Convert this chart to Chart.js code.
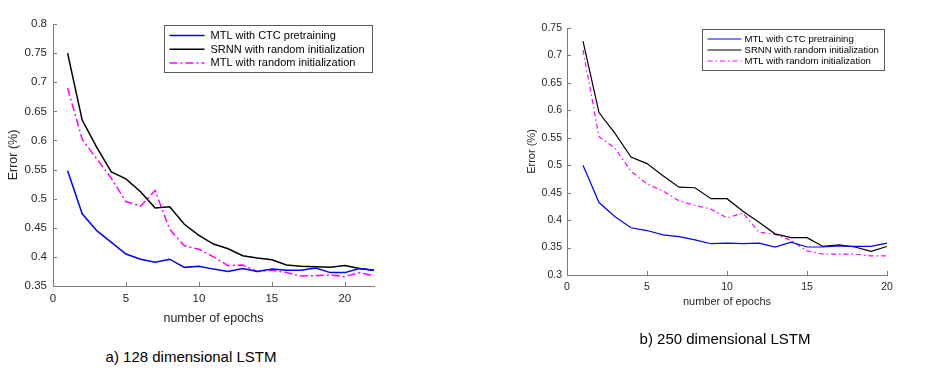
<!DOCTYPE html>
<html lang="en">
<head>
  <meta charset="UTF-8">
  <title>MTL vs SRNN error curves</title>
  <style>
    body {
      margin: 0;
      background: #fff;
      font-family: 'Liberation Sans', Arial, sans-serif;
    }
    .page {
      position: relative;
      width: 926px;
      height: 369px;
      background: #fff;
      overflow: hidden;
    }
    .page canvas {
      position: absolute;
      top: 0;
    }
    .caption {
      position: absolute;
      font-size: 15px;
      color: #000;
      white-space: nowrap;
      transform: translate(-50%, -50%);
    }
  </style>
</head>
<body>
  <div class="page">
    <canvas id="chart-a" width="400" height="340" style="left:0"></canvas>
    <canvas id="chart-b" width="420" height="330" style="left:500px"></canvas>
    <div class="caption" style="left:191px; top:356px">a) 128 dimensional LSTM</div>
    <div class="caption" style="left:725px; top:338px">b) 250 dimensional LSTM</div>
  </div>

  <script src="https://cdn.jsdelivr.net/npm/chart.js"></script>
  <script>
    // series names
    const seriesNames = ['MTL with CTC pretraining', 'SRNN with random initialization', 'MTL with random initialization'];

    // a) 128 dimensional LSTM
    const epochsA = [1, 2, 3, 4, 5, 6, 7, 8, 9, 10, 11, 12, 13, 14, 15, 16, 17, 18, 19, 20, 21, 22];
    const ctcA  = [0.548, 0.474, 0.445, 0.425, 0.405, 0.396, 0.391, 0.396, 0.382, 0.384, 0.379, 0.375, 0.380, 0.375, 0.379, 0.377, 0.377, 0.381, 0.373, 0.373, 0.380, 0.377];
    const srnnA = [0.750, 0.635, 0.588, 0.546, 0.534, 0.512, 0.484, 0.486, 0.456, 0.437, 0.422, 0.414, 0.402, 0.398, 0.395, 0.386, 0.384, 0.383, 0.382, 0.385, 0.380, 0.377];
    const randA = [0.690, 0.602, 0.568, 0.535, 0.495, 0.487, 0.514, 0.447, 0.419, 0.413, 0.400, 0.385, 0.386, 0.375, 0.377, 0.373, 0.367, 0.368, 0.369, 0.366, 0.373, 0.367];
    const xTicksA = [0, 5, 10, 15, 20];
    const yTicksA = [0.35, 0.4, 0.45, 0.5, 0.55, 0.6, 0.65, 0.7, 0.75, 0.8];

    // b) 250 dimensional LSTM
    const epochsB = [1, 2, 3, 4, 5, 6, 7, 8, 9, 10, 11, 12, 13, 14, 15, 16, 17, 18, 19, 20];
    const ctcB  = [0.500, 0.432, 0.406, 0.386, 0.381, 0.373, 0.370, 0.364, 0.357, 0.358, 0.357, 0.358, 0.351, 0.360, 0.351, 0.351, 0.353, 0.352, 0.352, 0.358];
    const srnnB = [0.726, 0.596, 0.558, 0.515, 0.503, 0.481, 0.460, 0.459, 0.439, 0.439, 0.416, 0.396, 0.375, 0.368, 0.368, 0.352, 0.355, 0.351, 0.343, 0.352];
    const randB = [0.710, 0.552, 0.531, 0.489, 0.466, 0.453, 0.435, 0.427, 0.420, 0.404, 0.413, 0.378, 0.374, 0.363, 0.344, 0.338, 0.338, 0.338, 0.335, 0.335];
    const xTicksB = [0, 5, 10, 15, 20];
    const yTicksB = [0.3, 0.35, 0.4, 0.45, 0.5, 0.55, 0.6, 0.65, 0.7, 0.75];

    const FONT = "'Liberation Sans', Arial, sans-serif";
    const AXIS = '#7a7a7a';
    const TEXT = '#262626';

    // MATLAB style ticks pointing into the plot
    const inwardTicks = {
      id: 'inwardTicks',
      afterDraw(chart, args, opts) {
        const { ctx, chartArea: a, scales: { x, y } } = chart;
        ctx.save();
        ctx.strokeStyle = AXIS;
        ctx.lineWidth = 1;
        ctx.beginPath();
        x.ticks.forEach(t => {
          const px = Math.round(x.getPixelForValue(t.value)) + 0.5;
          ctx.moveTo(px, a.bottom);
          ctx.lineTo(px, a.bottom - opts.len);
        });
        y.ticks.forEach(t => {
          const py = Math.round(y.getPixelForValue(t.value)) + 0.5;
          ctx.moveTo(a.left, py);
          ctx.lineTo(a.left + opts.len, py);
        });
        ctx.stroke();
        ctx.restore();
      }
    };

    // boxed legend in the top right corner of the plot
    const boxLegend = {
      id: 'boxLegend',
      afterDraw(chart, args, o) {
        const { ctx, chartArea: a } = chart;
        const sets = chart.data.datasets;
        ctx.save();
        ctx.font = o.fontSize + 'px ' + FONT;
        const textW = Math.max(...sets.map(d => ctx.measureText(d.label).width));
        const w = o.padL + o.lineLen + o.gap + textW + o.padR;
        const h = o.rowTop + o.rowH * (sets.length - 1) + o.rowBottom;
        const x0 = Math.round(a.right - o.offRight - w) + 0.5;
        const y0 = Math.round(a.top + o.offTop) + 0.5;
        ctx.fillStyle = '#fff';
        ctx.fillRect(x0, y0, w, h);
        ctx.strokeStyle = '#5a5a5a';
        ctx.lineWidth = 1;
        ctx.strokeRect(x0, y0, Math.round(w), Math.round(h));
        sets.forEach((d, i) => {
          const ry = y0 + o.rowTop + o.rowH * i;
          ctx.beginPath();
          ctx.strokeStyle = d.borderColor;
          ctx.lineWidth = d.borderWidth;
          ctx.setLineDash(d.borderDash || []);
          ctx.moveTo(x0 + o.padL, ry);
          ctx.lineTo(x0 + o.padL + o.lineLen, ry);
          ctx.stroke();
          ctx.setLineDash([]);
          ctx.fillStyle = '#000';
          ctx.textBaseline = 'middle';
          ctx.textAlign = 'left';
          ctx.fillText(d.label, x0 + o.padL + o.lineLen + o.gap, ry + 0.5);
        });
        ctx.restore();
      }
    };

    function makeChart(id, cfg) {
      const series = [cfg.ctc, cfg.srnn, cfg.rand];
      const colors = ['#0000ff', '#000000', '#ff00ff'];
      const datasets = series.map((vals, i) => ({
        label: seriesNames[i],
        data: cfg.epochs.map((e, j) => ({ x: e, y: vals[j] })),
        borderColor: colors[i],
        borderWidth: cfg.lineW,
        borderDash: i === 2 ? cfg.dash : [],
        pointRadius: 0,
        tension: 0,
        fill: false
      }));

      return new Chart(document.getElementById(id), {
        type: 'line',
        data: { datasets },
        plugins: [inwardTicks, boxLegend],
        options: {
          responsive: false,
          animation: false,
          layout: { padding: cfg.pad },
          plugins: {
            legend: { display: false },
            tooltip: { enabled: false },
            inwardTicks: { len: 4 },
            boxLegend: cfg.legend
          },
          scales: {
            x: {
              type: 'linear',
              min: cfg.xMin,
              max: cfg.xMax,
              grid: { display: false, drawTicks: false },
              border: { display: true, color: AXIS, width: 1 },
              afterBuildTicks: s => { s.ticks = cfg.xTicks.map(v => ({ value: v })); },
              afterFit: s => {
                s.height = cfg.xH;
                s.paddingLeft = 0; s.paddingRight = 0;
              },
              ticks: {
                padding: cfg.xTickPad,
                color: TEXT,
                font: { family: FONT, size: cfg.tickSize },
                maxRotation: 0,
                callback: v => String(v)
              },
              title: {
                display: true,
                text: 'number of epochs',
                color: TEXT,
                font: { family: FONT, size: cfg.titleSize },
                padding: { top: 0, bottom: cfg.xTitlePad }
              }
            },
            y: {
              type: 'linear',
              min: cfg.yMin,
              max: cfg.yMax,
              grid: { display: false, drawTicks: false },
              border: { display: true, color: AXIS, width: 1 },
              afterBuildTicks: s => { s.ticks = cfg.yTicks.map(v => ({ value: v })); },
              afterFit: s => {
                s.width = cfg.yW;
                s.paddingTop = 0; s.paddingBottom = 0;
              },
              ticks: {
                padding: cfg.yTickPad,
                color: TEXT,
                font: { family: FONT, size: cfg.tickSize },
                callback: v => String(+v.toFixed(2))
              },
              title: {
                display: true,
                text: 'Error (%)',
                color: TEXT,
                font: { family: FONT, size: cfg.titleSize },
                padding: { top: cfg.yTitlePad, bottom: 0 }
              }
            }
          }
        }
      });
    }

    makeChart('chart-a', {
      epochs: epochsA, ctc: ctcA, srnn: srnnA, rand: randA,
      xTicks: xTicksA, yTicks: yTicksA,
      xMin: 0, xMax: 22, yMin: 0.35, yMax: 0.8,
      pad: { top: 24, right: 26, left: 0, bottom: 0 },
      xH: 54, yW: 53,
      xTickPad: 6, yTickPad: 6, xTitlePad: 14, yTitlePad: 6,
      tickSize: 11.5, titleSize: 12.5,
      lineW: 1.5, dash: [8, 3, 2, 3],
      legend: { fontSize: 11, padL: 5, lineLen: 35, gap: 6, padR: 8, rowTop: 10, rowH: 13.7, rowBottom: 9.5, offRight: 2, offTop: 1 }
    });

    makeChart('chart-b', {
      epochs: epochsB, ctc: ctcB, srnn: srnnB, rand: randB,
      xTicks: xTicksB, yTicks: yTicksB,
      xMin: 0, xMax: 20, yMin: 0.3, yMax: 0.75,
      pad: { top: 28, right: 33, left: 0, bottom: 0 },
      xH: 55, yW: 67,
      xTickPad: 6, yTickPad: 5, xTitlePad: 21, yTitlePad: 25,
      tickSize: 10.5, titleSize: 11,
      lineW: 1.2, dash: [5, 3, 1.5, 3],
      legend: { fontSize: 9.6, padL: 5, lineLen: 34, gap: 3, padR: 6, rowTop: 9.5, rowH: 11, rowBottom: 9, offRight: 3, offTop: 1 }
    });
  </script>
</body>
</html>
